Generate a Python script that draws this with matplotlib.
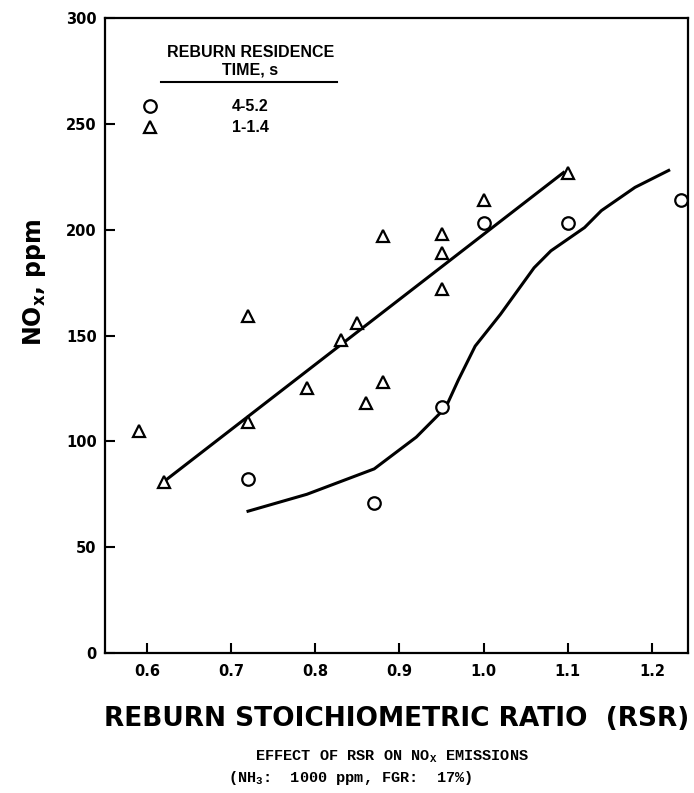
import matplotlib.pyplot as plt

# reburn residence time 4-5.2 s (circles)
rsr_long = [0.72, 0.87, 0.95, 1.00, 1.10, 1.235]
nox_long = [82, 71, 116, 203, 203, 214]

# reburn residence time 1-1.4 s (triangles)
rsr_short = [0.59, 0.62, 0.72, 0.72, 0.79, 0.83, 0.85, 0.86, 0.88, 0.88, 0.95, 0.95, 0.95, 1.00, 1.10]
nox_short = [105, 81, 159, 109, 125, 148, 156, 118, 128, 197, 198, 189, 172, 214, 227]

# hand drawn trend lines
trend_short_x = [0.62, 1.095]
trend_short_y = [81, 227]
trend_long_x = [0.72, 0.79, 0.87, 0.92, 0.955, 0.97, 0.99, 1.02, 1.04, 1.06, 1.08, 1.12, 1.14, 1.18, 1.22]
trend_long_y = [67, 75, 87, 102, 116, 129, 145, 160, 171, 182, 190, 201, 209, 220, 228]

x_ticks = [0.6, 0.7, 0.8, 0.9, 1.0, 1.1, 1.2]
x_labels = ["0.6", "0.7", "0.8", "0.9", "1.0", "1.1", "1.2"]
y_ticks = [0, 50, 100, 150, 200, 250, 300]

fig = plt.figure(figsize=(6.94, 7.93), dpi=100)
ax = fig.add_axes([0.1513, 0.1765, 0.8401, 0.8008])

mk = dict(linestyle='none', markerfacecolor='white', markeredgecolor='black',
          markeredgewidth=1.6, markersize=9)
ax.plot(trend_short_x, trend_short_y, color='black', lw=2.2, zorder=2)
ax.plot(trend_long_x, trend_long_y, color='black', lw=2.2, zorder=2)
ax.plot(rsr_long, nox_long, marker='o', zorder=3, **mk)
ax.plot(rsr_short, nox_short, marker='^', zorder=3, **mk)

ax.set_xlim(0.55, 1.243)
ax.set_ylim(0, 300)
ax.set_xticks(x_ticks)
ax.set_xticklabels(x_labels)
ax.set_yticks(y_ticks)
ax.tick_params(direction='in', length=7, width=1.5, labelsize=10.5)
ax.tick_params(axis='x', pad=8)
ax.tick_params(axis='y', pad=6)
for lab in ax.get_xticklabels() + ax.get_yticklabels():
    lab.set_fontweight('bold')
for sp in ax.spines.values():
    sp.set_linewidth(1.6)

ax.set_ylabel(r"NO$_\mathregular{x}$, ppm", fontsize=17, fontweight='bold')
ax.yaxis.set_label_coords(-0.097, 0.584)
fig.text(0.571, 0.093, "REBURN STOICHIOMETRIC RATIO  (RSR)", fontsize=19,
         fontweight='bold', ha='center', va='center')

# legend drawn as in the original
lf = dict(family='Liberation Sans', fontweight='bold', fontsize=11.5, ha='center', va='center',
          transform=ax.transAxes)
ax.text(0.249, 0.945, "REBURN RESIDENCE", **lf)
ax.text(0.249, 0.918, "TIME, s", **lf)
ax.plot([0.096, 0.398], [0.899, 0.899], color='black', lw=1.5, transform=ax.transAxes)
ax.plot([0.077], [0.861], marker='o', transform=ax.transAxes, **mk)
ax.plot([0.077], [0.828], marker='^', transform=ax.transAxes, **mk)
ax.text(0.249, 0.861, "4-5.2", **lf)
ax.text(0.249, 0.828, "1-1.4", **lf)

cf = dict(family='Liberation Mono', fontweight='bold', fontsize=11, ha='center', va='center')
fig.text(0.565, 0.046, r"EFFECT OF RSR ON NO$_\mathregular{X}$ EMISSIONS", **cf)
fig.text(0.505, 0.019, r"(NH$_\mathregular{3}$:  1000 ppm, FGR:  17%)", **cf)

fig.savefig("out.png", dpi=100)
